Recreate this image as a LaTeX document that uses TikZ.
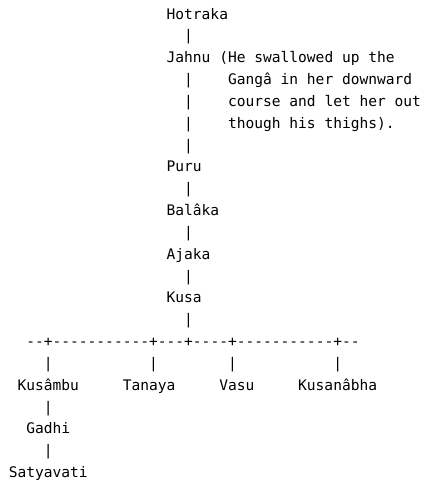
\documentclass[tikz,border=0pt]{standalone}
\usepackage{fontspec}
\setmonofont{DejaVu Sans Mono}
\tikzset{
  txt/.style={anchor=base west, inner sep=0pt, outer sep=0pt,
    font=\ttfamily\fontsize{14.57}{21.84}\selectfont, text=black},
}
\begin{document}
\begin{tikzpicture}[x=8.77pt,y=-21.84pt]
\useasboundingbox (0pt,0pt) rectangle (421pt,-483pt);
\fill[white] (0pt,0pt) rectangle (421pt,-483pt);
\begin{scope}[shift={(0pt,-19pt)}]
\node[txt] (hotraka) at (19,0) {Hotraka};
\node[txt] (v1) at (21,1) {|};
\node[txt] (jahnu) at (19,2) {Jahnu (He swallowed up the};
\node[txt] (v2) at (21,3) {|};
\node[txt] (n1) at (26,3) {Gangâ in her downward};
\node[txt] (v3) at (21,4) {|};
\node[txt] (n2) at (26,4) {course and let her out};
\node[txt] (v4) at (21,5) {|};
\node[txt] (n3) at (26,5) {though his thighs).};
\node[txt] (v5) at (21,6) {|};
\node[txt] (puru) at (19,7) {Puru};
\node[txt] (v6) at (21,8) {|};
\node[txt] (balaka) at (19,9) {Balâka};
\node[txt] (v7) at (21,10) {|};
\node[txt] (ajaka) at (19,11) {Ajaka};
\node[txt] (v8) at (21,12) {|};
\node[txt] (kusa) at (19,13) {Kusa};
\node[txt] (v9) at (21,14) {|};
\node[txt] (bar) at (3,15) {--+-----------+---+----+-----------+--};
\node[txt] (d1) at (5,16) {|};
\node[txt] (d2) at (17,16) {|};
\node[txt] (d3) at (26,16) {|};
\node[txt] (d4) at (38,16) {|};
\node[txt] (kusambu) at (2,17) {Kusâmbu};
\node[txt] (tanaya) at (14,17) {Tanaya};
\node[txt] (vasu) at (25,17) {Vasu};
\node[txt] (kusanabha) at (34,17) {Kusanâbha};
\node[txt] (v10) at (5,18) {|};
\node[txt] (gadhi) at (3,19) {Gadhi};
\node[txt] (v11) at (5,20) {|};
\node[txt] (satyavati) at (1,21) {Satyavati};
\end{scope}
\end{tikzpicture}
\end{document}
